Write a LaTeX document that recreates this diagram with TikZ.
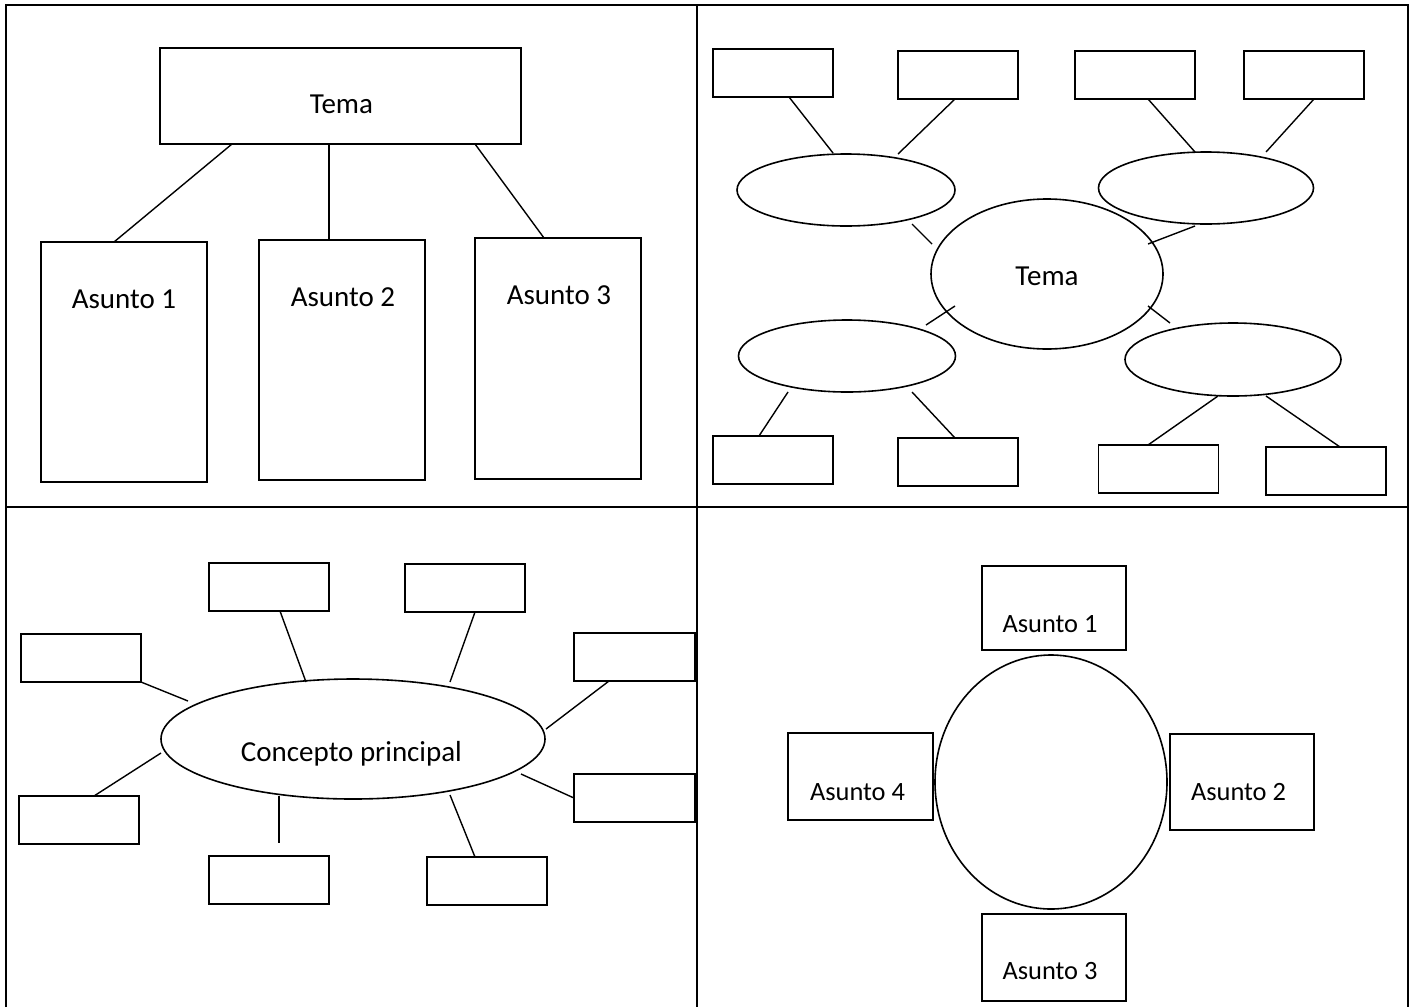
\documentclass[tikz,border=0pt]{standalone}
\usepackage{fontspec}
\setmainfont{Carlito}
\usetikzlibrary{shapes.geometric,calc}
\begin{document}
\begin{tikzpicture}[x=0.5pt,y=-0.5pt,
    box/.style={draw,line width=0.9pt,inner sep=0pt,outer sep=0pt,minimum width=60pt,minimum height=24pt},
    oval/.style={draw,ellipse,line width=0.8pt,inner sep=0pt,outer sep=0pt},
    txt/.style={inner sep=0pt,font=\fontsize{14.5}{17}\selectfont},
    stxt/.style={inner sep=0pt,font=\fontsize{13.2}{16}\selectfont},
    link/.style={line width=0.7pt}]
  \useasboundingbox (0,0) rectangle (1412,1007);
  \draw[line width=1pt] (6,1007) -- (6,4.5) -- (1408,4.5) -- (1408,1007);
  \draw[line width=1pt] (6,507) -- (1408,507);
  \draw[line width=1.2pt] (697,4.5) -- (697,1007);

  \node[box,minimum width=180.5pt,minimum height=48pt] (TM) at (340.5,96) {};
  \node[txt] (TMt) at ($(TM)+(1,8)$) {Tema};
  \node[box,minimum width=83pt,minimum height=120pt] (AS1) at (124,362) {};
  \node[box,minimum width=83pt,minimum height=120pt] (AS2) at (342,360) {};
  \node[box,minimum width=83pt,minimum height=120.5pt] (AS3) at (558,358.5) {};
  \node[txt] (AS1t) at ($(AS1.north)+(0,57)$) {Asunto 1};
  \node[txt] (AS2t) at ($(AS2.north)+(1,57)$) {Asunto 2};
  \node[txt] (AS3t) at ($(AS3.north)+(1,57)$) {Asunto 3};
  \draw[link] ($(TM.south)+(-108.5,0)$) -- ($(AS1.north)+(-10,0)$);
  \draw[link] ($(TM.south)+(-11.5,0)$) -- ($(AS2.north)+(-13,0)$);
  \draw[link] ($(TM.south)+(134.5,0)$) -- ($(AS3.north)+(-14,0)$);

  \node[oval,minimum width=116pt,minimum height=75pt] (TM2) at (1047,274) {};
  \node[txt] (TM2t) at ($(TM2)+(0,2)$) {Tema};
  \node[oval,minimum width=109pt,minimum height=36pt] (E1) at (846,190) {};
  \node[oval,minimum width=107.5pt,minimum height=36pt] (E2) at (1206,188) {};
  \node[oval,minimum width=108.5pt,minimum height=36pt] (E3) at (847,356) {};
  \node[oval,minimum width=108pt,minimum height=36.5pt] (E4) at (1233,359.5) {};
  \node[box] (B1) at (773,73) {};
  \node[box] (B2) at (958,75) {};
  \node[box] (B3) at (1135,75) {};
  \node[box] (B4) at (1304,75) {};
  \node[box] (B5) at (773,460) {};
  \node[box] (B6) at (958,462) {};
  \node[box] (B7) at (1158.5,469) {};
  \node[box] (B8) at (1326,471) {};
  \draw[link] ($(B1.south)+(16,0)$) -- ($(E1)+(-13,-37)$);
  \draw[link] ($(B2.south)+(-3,0)$) -- ($(E1)+(52,-36)$);
  \draw[link] ($(B3.south)+(13,0)$) -- ($(E2)+(-11,-36)$);
  \draw[link] ($(B4.south)+(10,0)$) -- ($(E2)+(60,-36)$);
  \draw[link] ($(E1)+(66,34)$) -- ($(TM2)+(-115,-30)$);
  \draw[link] ($(E2)+(-11,38)$) -- ($(TM2)+(101,-30)$);
  \draw[link] ($(TM2)+(-92,32)$) -- ($(E3)+(79,-31)$);
  \draw[link] ($(TM2)+(101,32)$) -- ($(E4)+(-63,-36.5)$);
  \draw[link] ($(E3)+(-59,36)$) -- ($(B5.north)+(-14,0)$);
  \draw[link] ($(E3)+(65,36)$) -- ($(B6.north)+(-3,0)$);
  \draw[link] ($(E4)+(-15,36.5)$) -- ($(B7.north)+(-10.5,0)$);
  \draw[link] ($(E4)+(33,36.5)$) -- ($(B8.north)+(14,0)$);

  \node[oval,minimum width=192pt,minimum height=60pt] (CP) at (353,739) {};
  \node[txt] (CPt) at ($(CP)+(-1.5,15)$) {Concepto principal};
  \node[box] (C1) at (269,587) {};
  \node[box] (C2) at (465,588) {};
  \node[box] (C3) at (81,658) {};
  \node[box,minimum width=60.5pt] (C4) at (634.5,657) {};
  \node[box] (C5) at (79,820) {};
  \node[box,minimum width=60.5pt] (C6) at (634.5,798) {};
  \node[box] (C7) at (269,880) {};
  \node[box] (C8) at (487,881) {};
  \draw[link] ($(C1.south)+(11,0)$) -- ($(CP)+(-47,-57)$);
  \draw[link] ($(C2.south)+(10,0)$) -- ($(CP)+(97,-57)$);
  \draw[link] (C3.south east) -- ($(CP)+(-165,-38)$);
  \draw[link] ($(C4.south)+(-25.5,0)$) -- ($(CP)+(193,-10)$);
  \draw[link] ($(CP)+(-192,14)$) -- ($(C5.north)+(15,0)$);
  \draw[link] ($(CP)+(168,35)$) -- (C6.west);
  \draw[link] ($(CP)+(-74,57)$) -- ($(C7.north)+(10,-13)$);
  \draw[link] ($(CP)+(97,56)$) -- ($(C8.north)+(-12,0)$);

  \node[oval,minimum width=116pt,minimum height=127pt] (OV) at (1051,782) {};
  \node[box,minimum width=72pt,minimum height=42pt] (S1) at (1054,608) {};
  \node[box,minimum width=72pt,minimum height=48pt] (S2) at (1242,782) {};
  \node[box,minimum width=72pt,minimum height=43.5pt] (S3) at (1054,957.5) {};
  \node[box,minimum width=72.5pt,minimum height=43.5pt] (S4) at (860.5,776.5) {};
  \node[stxt] (S1t) at ($(S1)+(-4,16)$) {Asunto 1};
  \node[stxt] (S2t) at ($(S2)+(-3.5,10)$) {Asunto 2};
  \node[stxt] (S3t) at ($(S3)+(-4,14)$) {Asunto 3};
  \node[stxt] (S4t) at ($(S4)+(-3,15.5)$) {Asunto 4};
\end{tikzpicture}
\end{document}
